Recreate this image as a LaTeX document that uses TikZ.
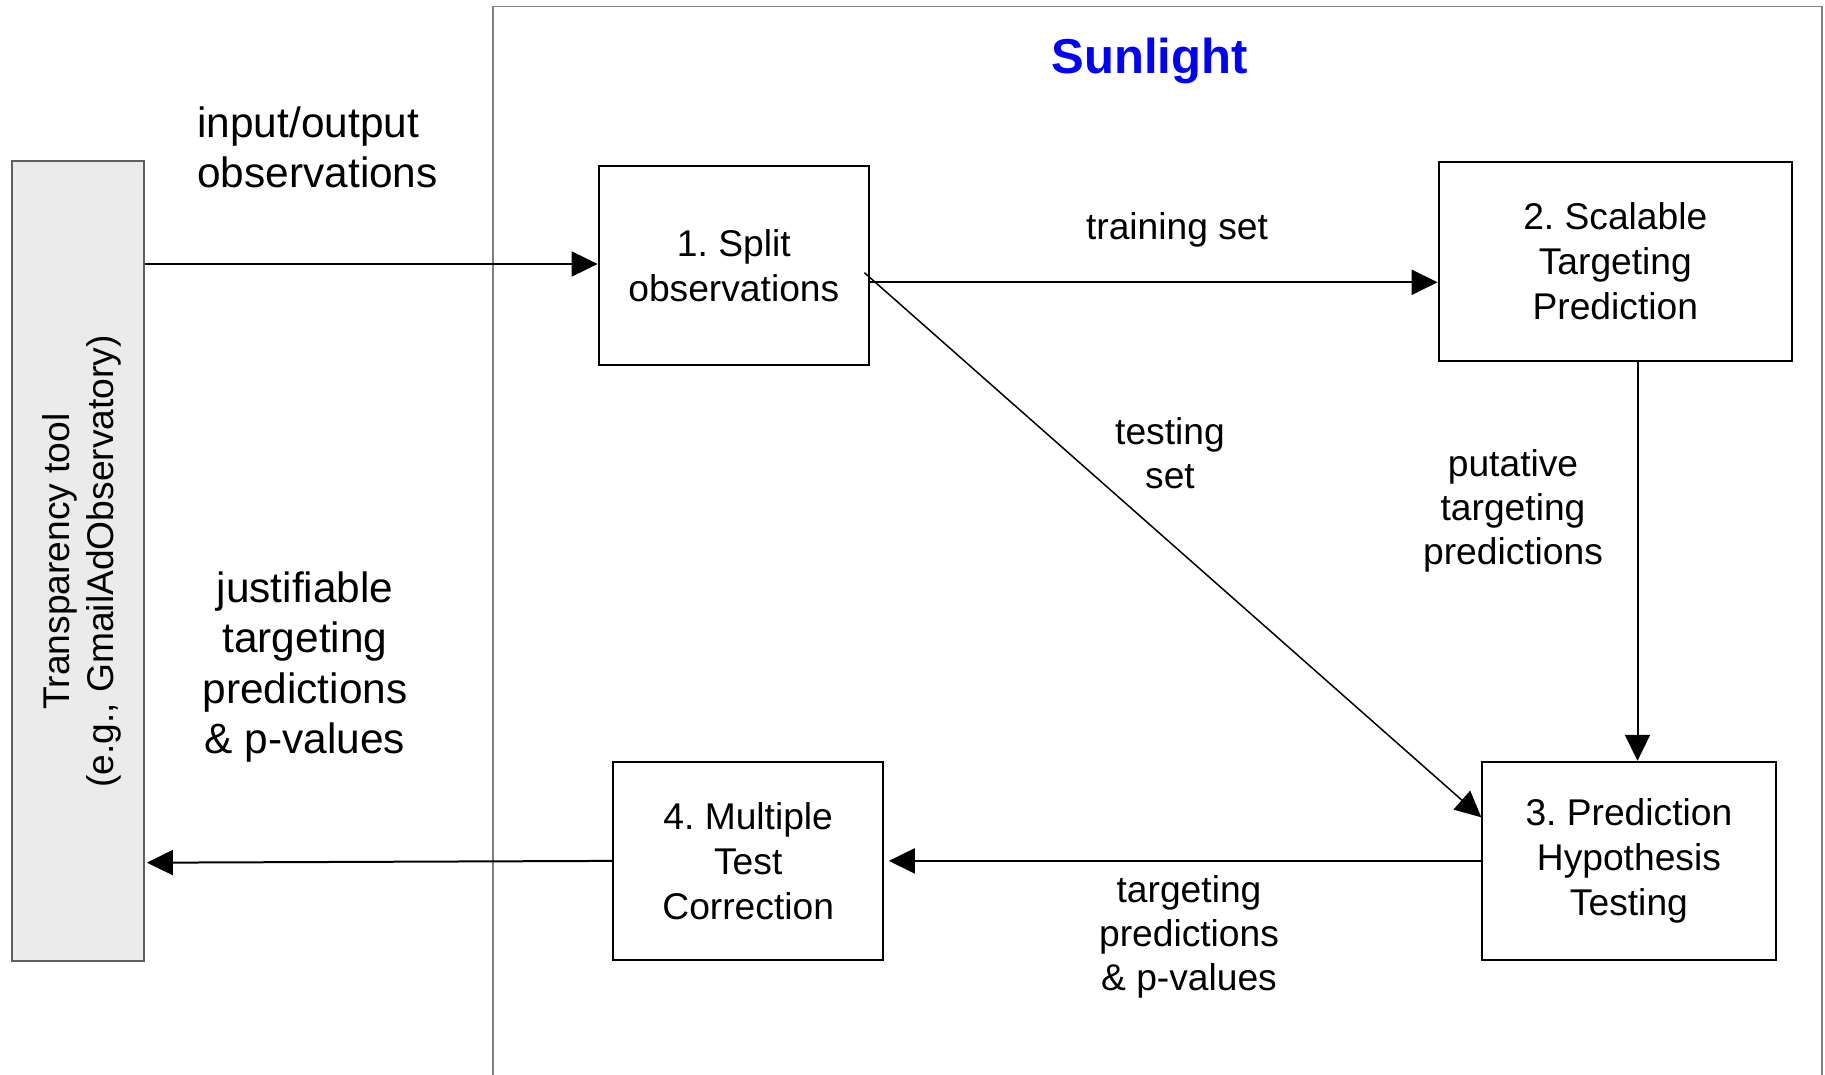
\documentclass[tikz,border=0pt]{standalone}
\usepackage{fontspec}
\setmainfont{Liberation Sans}
\usetikzlibrary{arrows.meta}
\definecolor{framegray}{HTML}{808080}
\definecolor{toolfill}{HTML}{EBEBEB}
\definecolor{tooledge}{HTML}{5F5F5F}
\definecolor{sunblue}{HTML}{0000FF}
\frenchspacing

\begin{document}
\begin{tikzpicture}[x=0.5pt,y=-0.5pt,
  stage/.style={draw=black, line width=1pt, fill=white, inner sep=0pt,
    align=center, font=\fontsize{18.6}{22.4}\selectfont},
  toolbox/.style={draw=tooledge, fill=toolfill, line width=1pt, inner sep=0pt},
  tooltext/.style={inner sep=0pt, align=center, font=\fontsize{18.6}{22.2}\selectfont},
  biglabel/.style={inner sep=0pt, font=\fontsize{21.2}{25.15}\selectfont},
  smalllabel/.style={inner sep=0pt, font=\fontsize{18.6}{22}\selectfont},
  arr/.style={draw=black, line width=1pt, -{Triangle[length=13pt,width=12.5pt]}},
  thinarr/.style={arr, line width=0.75pt}
]
\useasboundingbox (0,0) rectangle (1825,1075);

% Sunlight system frame (open at the bottom)
\draw[framegray, line width=0.75pt] (493,1075) -- (493,6.4) -- (1822,6.4) -- (1822,1075);
\node[inner sep=0pt, anchor=base, text=sunblue,
  font=\fontsize{24.5}{29}\selectfont\bfseries] (title) at (1149.4,73.3) {Sunlight};

% external transparency tool
\node[toolbox, minimum width=66pt, minimum height=400pt] (tool) at (77.7,560.7) {};
\node[tooltext, rotate=90] (tooltxt) at (82.1,561.5)
  {Transparency tool\\(e.g., GmailAdObservatory)};

% processing stages
\node[stage, minimum width=135.2pt, minimum height=99.5pt] (split) at (733.8,265.5)
  {1. Split\\observations};
\node[stage, minimum width=176.7pt, minimum height=99.5pt] (scal) at (1615.3,261.5)
  {2. Scalable\\Targeting\\Prediction};
\node[stage, minimum width=146.6pt, minimum height=99.1pt] (hyp) at (1628.9,860.9)
  {3. Prediction\\Hypothesis\\Testing};
\node[stage, minimum width=135.2pt, minimum height=99.1pt] (mtc) at (748.2,860.9)
  {4. Multiple\\Test\\Correction};

% labels
\node[biglabel, align=left, anchor=west] (iolbl) at (197,147)
  {input/output\\observations};
\node[biglabel, align=center] (justlbl) at (305,667)
  {justifiable\\targeting\\predictions\\\& p-values};
\node[smalllabel, anchor=base] (trainlbl) at (1177,239.3) {training set};
\node[smalllabel, align=center] (testlbl) at (1170,452.8) {testing\\set};
\node[smalllabel, align=center] (putlbl) at (1513,511)
  {putative\\targeting\\predictions};
\node[smalllabel, align=center] (tplbl) at (1189,937)
  {targeting\\predictions\\\& p-values};

% connectors
\coordinate (outy) at (0,862.7);
\draw[arr] (tool.east |- 0,264) -- (split.west |- 0,264);
\draw[arr] ([yshift=-8.4pt]split.east) -- ([yshift=-8.4pt]split.east -| scal.west);
\draw[thinarr] ([xshift=-2.8pt,yshift=-3.6pt]split.east) -- ([yshift=21.8pt]hyp.west);
\draw[arr] ([xshift=11.1pt]scal.south) -- ([xshift=11.1pt]scal.south |- hyp.north);
\draw[arr, shorten >=2.2pt] (hyp.west) -- (mtc.east);
\draw[arr, shorten >=1.1pt] (mtc.west) -- (tool.east |- outy);
\end{tikzpicture}
\end{document}
